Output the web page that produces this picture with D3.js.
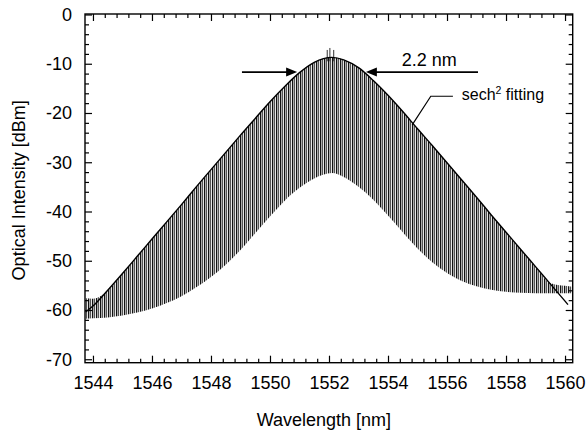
<!DOCTYPE html>
<html><head><meta charset="utf-8">
<script src="https://cdn.jsdelivr.net/npm/d3@7"></script>
<style>
body{margin:0;background:#fff}
svg{display:block}
text{font-family:"Liberation Sans",Arial,sans-serif;fill:#000}
</style>
</head><body><svg id="c" width="586" height="434"></svg>
<script>
// ---- data ----
const wavelengths = [1543.75,1544,1544.5,1545,1545.5,1546,1546.5,1547,1547.5,1548,1548.5,1549,1549.5,1550,1550.5,1551,1551.5,1552.1,1552.5,1553,1553.5,1554,1554.5,1555,1555.5,1556,1556.5,1557,1557.5,1558,1558.5,1559,1559.5,1560,1560.25];
const spectrumTop = [-57.6,-57.7,-56.1,-52.6,-49.1,-45.6,-42.1,-38.6,-35.0,-31.5,-28.0,-24.5,-21.1,-17.7,-14.6,-11.8,-9.7,-8.7,-9.2,-10.8,-13.4,-16.4,-19.7,-23.2,-26.6,-30.1,-33.6,-37.1,-40.7,-44.2,-47.7,-51.2,-54.5,-55.1,-55.3];
const spectrumBottom = [-61.8,-61.7,-61.5,-61.1,-60.5,-59.7,-58.6,-57.2,-55.4,-53.3,-50.8,-47.8,-44.4,-41.0,-37.8,-35.2,-33.3,-32.2,-33.0,-35.0,-37.6,-40.8,-44.2,-47.5,-50.3,-52.5,-54.1,-55.2,-55.9,-56.3,-56.5,-56.6,-56.6,-56.6,-56.6];
const fitWavelengths = [1543.75,1544,1544.5,1545,1545.5,1546,1546.5,1547,1547.5,1548,1548.5,1549,1549.5,1550,1550.5,1551,1551.5,1552.1,1552.5,1553,1553.5,1554,1554.5,1555,1555.5,1556,1556.5,1557,1557.5,1558,1558.5,1559,1559.5,1560,1560.1];
const fitValues = [-60.4,-59.2,-56.0,-52.6,-49.1,-45.6,-42.1,-38.6,-35.0,-31.5,-28.0,-24.5,-21.1,-17.7,-14.6,-11.8,-9.7,-8.7,-9.2,-10.8,-13.4,-16.4,-19.7,-23.2,-26.6,-30.1,-33.6,-37.1,-40.7,-44.2,-47.7,-51.2,-54.7,-58.2,-58.9];
const spikeWavelengths = [1551.94,1552.03,1552.16];
const spikeTops = [-7.2,-6.8,-7.2];
const xTicks = [1544,1546,1548,1550,1552,1554,1556,1558,1560];
const yTicks = [0,-10,-20,-30,-40,-50,-60,-70];
const fwhmLabel = "2.2 nm";
const fitLabel = ["sech","2"," fitting"];

// ---- layout ----
const L=85, R=572.7, T=14, B=362.7;
const x = d3.scaleLinear([1543.73,1560.26],[L,R]);
const y = d3.scaleLinear([-70.7,0.1],[B,T]);
const svg = d3.select("#c");
const font = '"Liberation Sans",Arial,sans-serif';

// pattern for the dense comb lines
const defs = svg.append("defs");
const pat = defs.append("pattern").attr("id","comb").attr("patternUnits","userSpaceOnUse")
  .attr("width",4).attr("height",10);
[["#111",0],["#aaa",1],["#555",2],["#e6e6e6",3]].forEach(([c,i])=>
  pat.append("rect").attr("x",i).attr("y",0).attr("width",1).attr("height",10).attr("fill",c));
defs.append("clipPath").attr("id","clip").append("rect")
  .attr("x",L).attr("y",T).attr("width",R-L).attr("height",B-T);

const plot = svg.append("g").attr("clip-path","url(#clip)");
const band = wavelengths.map((w,i)=>({w,hi:spectrumTop[i],lo:spectrumBottom[i]}));
plot.append("path").datum(band)
  .attr("d", d3.area().x(d=>x(d.w)).y0(d=>y(d.lo)).y1(d=>y(d.hi)).curve(d3.curveMonotoneX))
  .attr("fill","url(#comb)");
plot.selectAll("line.spike").data(spikeWavelengths).join("line").attr("class","spike")
  .attr("x1",d=>x(d)).attr("x2",d=>x(d)).attr("y1",y(-9.5)).attr("y2",(d,i)=>y(spikeTops[i]))
  .attr("stroke","#333").attr("stroke-width",1);
const fit = fitWavelengths.map((w,i)=>({w,v:fitValues[i]}));
plot.append("path").datum(fit)
  .attr("d", d3.line().x(d=>x(d.w)).y(d=>y(d.v)).curve(d3.curveMonotoneX))
  .attr("fill","none").attr("stroke","#000").attr("stroke-width",1.4);

// ---- axes ----
const xMinor = d3.range(1544,1560.01,0.4).filter(v=>Math.abs(v/2-Math.round(v/2))>0.01);
const yMinor = d3.range(-70,0.01,2).filter(v=>v%10!==0);
function style(g){ g.select(".domain").remove(); g.selectAll("line").attr("stroke","#000").attr("stroke-width",1.2);
  g.selectAll("text").attr("font-family",font).attr("font-size",18).attr("fill","#000"); }
svg.append("g").attr("transform",`translate(0,${B})`).call(d3.axisBottom(x).tickValues(xTicks).tickSize(-7).tickPadding(14).tickFormat(d=>String(d))).call(style);
svg.append("g").attr("transform",`translate(0,${B})`).call(d3.axisBottom(x).tickValues(xMinor).tickSize(-4).tickFormat("")).call(style);
svg.append("g").attr("transform",`translate(0,${T})`).call(d3.axisTop(x).tickValues(xTicks).tickSize(-7).tickFormat("")).call(style);
svg.append("g").attr("transform",`translate(0,${T})`).call(d3.axisTop(x).tickValues(xMinor).tickSize(-4).tickFormat("")).call(style);
svg.append("g").attr("transform",`translate(${L},0)`).call(d3.axisLeft(y).tickValues(yTicks).tickSize(-7).tickPadding(13).tickFormat(d=>String(d))).call(style);
svg.append("g").attr("transform",`translate(${L},0)`).call(d3.axisLeft(y).tickValues(yMinor).tickSize(-4).tickFormat("")).call(style);
svg.append("g").attr("transform",`translate(${R},0)`).call(d3.axisRight(y).tickValues(yTicks).tickSize(-7).tickFormat("")).call(style);
svg.append("g").attr("transform",`translate(${R},0)`).call(d3.axisRight(y).tickValues(yMinor).tickSize(-4).tickFormat("")).call(style);
svg.append("rect").attr("x",L).attr("y",T).attr("width",R-L).attr("height",B-T)
  .attr("fill","none").attr("stroke","#000").attr("stroke-width",1.4);

// axis titles
svg.append("text").attr("x",(L+R)/2-5).attr("y",426).attr("text-anchor","middle")
  .attr("font-size",18).text("Wavelength [nm]");
svg.append("text").attr("transform",`translate(25,${(T+B)/2+2}) rotate(-90)`).attr("text-anchor","middle")
  .attr("font-size",18).text("Optical Intensity [dBm]");

// ---- annotations (data units) ----
const arrowY = -11.7;
function arrow(fromW, tipW){
  const x0=x(fromW), x1=x(tipW), yy=y(arrowY), dir=Math.sign(x1-x0);
  svg.append("line").attr("x1",x0).attr("x2",x1-dir*8).attr("y1",yy).attr("y2",yy)
    .attr("stroke","#000").attr("stroke-width",1.6);
  svg.append("path").attr("d",`M${x1},${yy}L${x1-dir*11},${yy-4.5}L${x1-dir*11},${yy+4.5}Z`).attr("fill","#000");
}
arrow(1549.05,1550.92);
arrow(1557.05,1553.25);
svg.append("text").attr("x",x(1555.4)).attr("y",y(-10.4)).attr("text-anchor","middle")
  .attr("font-size",18).text(fwhmLabel);
svg.append("path").attr("d",`M${x(1556.2)},${y(-16.6)}L${x(1555.45)},${y(-16.6)}L${x(1554.82)},${y(-22.4)}`)
  .attr("fill","none").attr("stroke","#000").attr("stroke-width",1.2);
const ft = svg.append("text").attr("x",x(1556.5)).attr("y",y(-17.4)).attr("font-size",16);
ft.append("tspan").text(fitLabel[0]);
ft.append("tspan").attr("dy",-6).attr("font-size",10.5).text(fitLabel[1]);
ft.append("tspan").attr("dy",6).text(fitLabel[2]);
</script>
</body></html>
